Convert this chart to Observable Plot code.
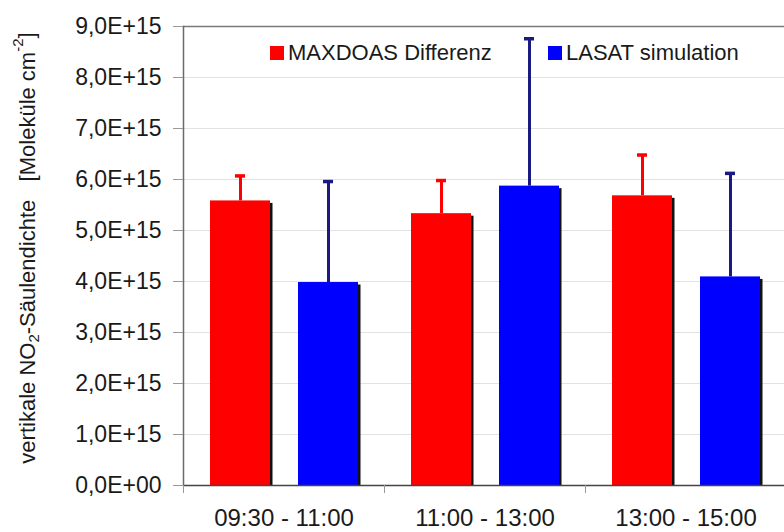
<!DOCTYPE html>
<html>
<head>
<meta charset="utf-8">
<script src="https://cdn.jsdelivr.net/npm/d3@7"></script>
<script src="https://cdn.jsdelivr.net/npm/@observablehq/plot@0.6"></script>
<style>
  html, body { margin: 0; padding: 0; background: #fff; overflow: hidden; }
  #wrap { position: relative; width: 784px; height: 532px; }
  .legend { position: absolute; top: 40px; font: 22px "Liberation Sans", Arial, sans-serif; color: #1a1a1a; display: flex; align-items: center; white-space: nowrap; }
  .legend .sw { width: 14px; height: 14px; margin-right: 4px; }
</style>
</head>
<body>
<div id="wrap"></div>
<script>
// ---- data ----
const categories = ["09:30 - 11:00", "11:00 - 13:00", "13:00 - 15:00"];
const seriesNames = ["MAXDOAS Differenz", "LASAT simulation"];
const maxdoasValues = [5.58e15, 5.33e15, 5.68e15];
const maxdoasErrors = [0.49e15, 0.65e15, 0.80e15];
const lasatValues = [3.98e15, 5.87e15, 4.09e15];
const lasatErrors = [1.98e15, 2.89e15, 2.03e15];
const yTicks = [0, 1e15, 2e15, 3e15, 4e15, 5e15, 6e15, 7e15, 8e15, 9e15];
const yLabel = "vertikale NO₂-Säulendichte\u00a0\u00a0\u00a0[Moleküle cm⁻²]";
// label pieces: [text, kind]
const yLabelParts = [["vertikale NO", ""], ["2", "sub"], ["-Säulendichte\u00a0\u00a0\u00a0[Moleküle cm", ""], ["-2", "sup"], ["]", ""]];

const colors = {"MAXDOAS Differenz": "#ff0000", "LASAT simulation": "#0000ff"};
const errColors = {"MAXDOAS Differenz": "#ff0000", "LASAT simulation": "#1a1a80"};

const rows = [];
categories.forEach((c, i) => {
  rows.push({cat: c, series: seriesNames[0], value: maxdoasValues[i], err: maxdoasErrors[i]});
  rows.push({cat: c, series: seriesNames[1], value: lasatValues[i], err: lasatErrors[i]});
});
const red = rows.filter(d => d.series === seriesNames[0]);
const blue = rows.filter(d => d.series === seriesNames[1]);

// layout
const W = 784, H = 532, mL = 183, mT = 26, mB = 47;
const step = 201, outer = 27, barW = 60, gap = 28;
const redL = outer, redR = step - outer - barW;
const blueL = outer + barW + gap, blueR = step - blueL - barW;
const redC = redL + barW / 2 - step / 2, blueC = blueL + barW / 2 - step / 2;
const capHalf = 5;

function fmt(v) {
  if (v === 0) return "0,0E+00";
  const e = Math.floor(Math.log10(Math.abs(v)));
  const m = v / Math.pow(10, e);
  return m.toFixed(1).replace(".", ",") + "E" + (e >= 0 ? "+" : "-") + String(Math.abs(e)).padStart(2, "0");
}

const font = "'Liberation Sans', Arial, sans-serif";

const plot = Plot.plot({
  width: W, height: H,
  marginLeft: mL, marginRight: 0, marginTop: mT, marginBottom: mB,
  style: {fontFamily: font, color: "#1a1a1a", background: "#fff"},
  x: {domain: categories, range: [mL, mL + 3 * step], padding: 0, axis: null},
  y: {domain: [0, 9e15], axis: null},
  marks: [
    Plot.ruleY(yTicks.slice(1, -1), {stroke: "#e2e2e2", strokeWidth: 1}),
    Plot.ruleY([9e15], {stroke: "#7a7a7a", strokeWidth: 1.5}),
    // shadows
    Plot.barY(red, {x: "cat", y: "value", fill: "#111", insetLeft: redL, insetRight: redR, dx: 2.5, dy: 2.5, insetBottom: 2.5}),
    Plot.barY(blue, {x: "cat", y: "value", fill: "#111", insetLeft: blueL, insetRight: blueR, dx: 2.5, dy: 2.5, insetBottom: 2.5}),
    // bars
    Plot.barY(red, {x: "cat", y: "value", fill: d => colors[d.series], insetLeft: redL, insetRight: redR}),
    Plot.barY(blue, {x: "cat", y: "value", fill: d => colors[d.series], insetLeft: blueL, insetRight: blueR}),
    // error bars
    Plot.ruleX(red, {x: "cat", y1: "value", y2: d => d.value + d.err, dx: redC, stroke: d => errColors[d.series], strokeWidth: 3}),
    Plot.ruleX(blue, {x: "cat", y1: "value", y2: d => d.value + d.err, dx: blueC, stroke: d => errColors[d.series], strokeWidth: 3}),
    Plot.tickY(red, {x: "cat", y: d => d.value + d.err, insetLeft: redL + barW / 2 - capHalf, insetRight: redR + barW / 2 - capHalf, stroke: d => errColors[d.series], strokeWidth: 3.5}),
    Plot.tickY(blue, {x: "cat", y: d => d.value + d.err, insetLeft: blueL + barW / 2 - capHalf, insetRight: blueR + barW / 2 - capHalf, stroke: d => errColors[d.series], strokeWidth: 3.5}),
    // axes
    Plot.ruleY([0], {stroke: "#444", strokeWidth: 1.5}),
    Plot.frame({anchor: "left", stroke: "#6a6a6a", strokeWidth: 1.5}),
    Plot.axisY({ticks: yTicks, tickSize: 10, tickPadding: 12, tickFormat: fmt, fontSize: 23, stroke: "#999", label: null}),
    Plot.axisX({ticks: categories, tickSize: 8, tickFormat: () => "", dx: -step / 2, stroke: "#999", label: null}),
    Plot.axisX({ticks: categories, tickSize: 0, tickPadding: 23, fontSize: 24, label: null}),
    Plot.text([yLabel], {frameAnchor: "left", textAnchor: "middle", rotate: -90, dx: -156, dy: -8, fontSize: 22, fill: "#1a1a1a"})
  ]
});

const wrap = document.getElementById("wrap");
wrap.appendChild(plot);

// rebuild y label with real sub/superscripts
d3.select(plot).selectAll("text").filter(function () { return this.textContent === yLabel; }).each(function () {
  const t = d3.select(this);
  t.text(null);
  yLabelParts.forEach(([s, kind]) => {
    const ts = t.append("tspan").text(s);
    if (kind === "sub") ts.attr("font-size", 15).attr("dy", "0.3em");
    if (kind === "sup") ts.attr("font-size", 15).attr("dy", "-0.75em");
  });
  const spans = t.selectAll("tspan").nodes();
  d3.select(spans[2]).attr("dy", "-0.2em");
  d3.select(spans[4]).attr("dy", "0.5em");
});

function legendItem(name, left) {
  const d = document.createElement("div");
  d.className = "legend";
  d.style.left = left + "px";
  const sw = document.createElement("span");
  sw.className = "sw";
  sw.style.background = colors[name];
  d.appendChild(sw);
  d.appendChild(document.createTextNode(name));
  wrap.appendChild(d);
}
legendItem(seriesNames[0], 270);
legendItem(seriesNames[1], 548);
</script>
</body>
</html>
